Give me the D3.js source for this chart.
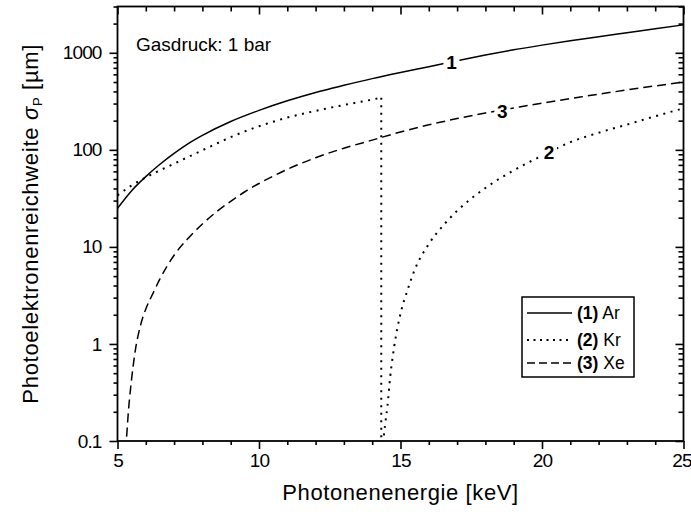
<!DOCTYPE html>
<html>
<head>
<meta charset="utf-8">
<script src="https://cdn.jsdelivr.net/npm/d3@7"></script>
<style>
  body { margin: 0; background: #fff; }
  svg { display: block; font-family: "Liberation Sans", Arial, sans-serif; }
  .axis path, .axis line { stroke: #000; }
  .axis text { font-size: 19px; fill: #000; letter-spacing: -0.9px; font-family: "Liberation Sans", Arial, sans-serif; }
</style>
</head>
<body>
<svg id="chart" width="691" height="514"></svg>
<script>
// tick labels
const xTicks = [5, 10, 15, 20, 25];
const yTicks = [0.1, 1, 10, 100, 1000];

// (1) Ar
const arEnergy = [5, 5.5, 6, 6.5, 7, 7.5, 8, 9, 10, 11, 12, 13, 14, 15, 16, 17, 18, 19, 20, 21, 22, 23, 24, 25];
const arRange  = [25, 38, 53, 71, 92, 116, 141, 196, 255, 320, 390, 462, 542, 627, 720, 830, 950, 1075, 1200, 1330, 1465, 1610, 1770, 1940];

// (2) Kr, below and above the K edge
const krLowEnergy = [5, 5.5, 6, 6.5, 7, 7.5, 8, 8.5, 9, 9.5, 10, 10.5, 11, 12, 13, 14, 14.32];
const krLowRange  = [34, 43, 52, 61.5, 72, 84.5, 99, 116, 135, 155, 175, 195, 215, 252, 290, 330, 345];
const krEdge = 14.32;
const krHighEnergy = [14.38, 14.40, 14.46, 14.54, 14.64, 14.78, 15, 15.25, 15.5, 16, 16.5, 17, 17.5, 18, 18.5, 19, 19.5, 20, 21, 22, 23, 24, 25];
const krHighRange  = [0.08, 0.1, 0.15, 0.23, 0.47, 0.95, 2.05, 3.6, 5.8, 10.7, 16.5, 23.5, 31.5, 40.5, 50.5, 61.5, 73.5, 87, 120, 150, 182, 222, 268];

// (3) Xe
const xeEnergy = [5.28, 5.31, 5.39, 5.5, 5.63, 5.8, 6, 6.25, 6.5, 7, 7.5, 8, 8.5, 9, 9.5, 10, 11, 12, 13, 14, 15, 16, 17, 18, 19, 20, 21, 22, 23, 24, 25];
const xeRange  = [0.08, 0.1, 0.21, 0.44, 0.86, 1.5, 2.29, 3.3, 4.68, 8.2, 12.3, 17.2, 23, 29.5, 37, 45, 63, 83, 104, 126, 153, 181, 210, 240, 270, 303, 337, 375, 414, 456, 500];

// inline curve labels
const curveLabels = ['1', '2', '3'];
const curveLabelEnergy = [16.8, 20.25, 18.6];
const curveLabelRange = [810, 94, 252];

// legend
const legendNums = ['(1)', '(2)', '(3)'];
const legendGases = ['Ar', 'Kr', 'Xe'];
const legendDash = [null, '2,4.5', '8,4'];

const width = 691, height = 514;
const margin = {l: 117.5, r: 7.5, t: 6.5, b: 73};
const svg = d3.select('#chart');

const x = d3.scaleLinear().domain([5, 25]).range([margin.l, width - margin.r]);
const y = d3.scaleLog().domain([0.1, 3000]).range([height - margin.b, margin.t]);

const xMinor = d3.range(5, 26, 1).filter(v => !xTicks.includes(v));
const yMinor = [];
yTicks.forEach(d => { for (let k = 2; k <= 9; k++) { if (d * k <= 3000) yMinor.push(d * k); } });

const fmtY = d => d < 1 ? d3.format('.1f')(d) : d3.format('d')(d);

// bottom axis
svg.append('g').attr('class', 'axis')
  .attr('transform', `translate(0,${y.range()[0]})`)
  .call(d3.axisBottom(x).tickValues(xTicks).tickSize(8).tickPadding(5).tickFormat(d3.format('d')))
  .call(g => g.select('.domain').remove())
  .call(g => g.selectAll('.tick text').filter(d => d === 25).attr('dx', -2));
svg.append('g').attr('class', 'axis')
  .attr('transform', `translate(0,${y.range()[0]})`)
  .call(d3.axisBottom(x).tickValues(xMinor).tickSize(4).tickFormat(''))
  .call(g => g.select('.domain').remove());
// top axis, ticks inward
svg.append('g').attr('class', 'axis')
  .attr('transform', `translate(0,${margin.t})`)
  .call(d3.axisBottom(x).tickValues(xTicks).tickSize(8).tickFormat(''))
  .call(g => g.select('.domain').remove());
svg.append('g').attr('class', 'axis')
  .attr('transform', `translate(0,${margin.t})`)
  .call(d3.axisBottom(x).tickValues(xMinor).tickSize(5).tickFormat(''))
  .call(g => g.select('.domain').remove());

// left axis
svg.append('g').attr('class', 'axis')
  .attr('transform', `translate(${margin.l},0)`)
  .call(d3.axisLeft(y).tickValues(yTicks).tickSize(8).tickPadding(8).tickFormat(fmtY))
  .call(g => g.select('.domain').remove());
svg.append('g').attr('class', 'axis')
  .attr('transform', `translate(${margin.l},0)`)
  .call(d3.axisLeft(y).tickValues(yMinor).tickSize(4).tickFormat(''))
  .call(g => g.select('.domain').remove());
// right axis, ticks inward
svg.append('g').attr('class', 'axis')
  .attr('transform', `translate(${width - margin.r},0)`)
  .call(d3.axisLeft(y).tickValues(yTicks).tickSize(8).tickFormat(''))
  .call(g => g.select('.domain').remove());
svg.append('g').attr('class', 'axis')
  .attr('transform', `translate(${width - margin.r},0)`)
  .call(d3.axisLeft(y).tickValues(yMinor).tickSize(5).tickFormat(''))
  .call(g => g.select('.domain').remove());

svg.selectAll('.axis line').attr('stroke-width', 1.6);

// frame
svg.append('rect')
  .attr('x', x.range()[0]).attr('y', y.range()[1])
  .attr('width', x.range()[1] - x.range()[0])
  .attr('height', y.range()[0] - y.range()[1])
  .attr('fill', 'none').attr('stroke', '#000').attr('stroke-width', 1.8);

// clip for curves
svg.append('clipPath').attr('id', 'plotClip').append('rect')
  .attr('x', x.range()[0]).attr('y', y.range()[1])
  .attr('width', x.range()[1] - x.range()[0])
  .attr('height', y.range()[0] - y.range()[1]);

const curves = svg.append('g').attr('clip-path', 'url(#plotClip)');
const line = d3.line().x(d => x(d[0])).y(d => y(d[1])).curve(d3.curveMonotoneX);
const zipped = (a, b) => a.map((v, i) => [v, b[i]]);

curves.append('path').datum(zipped(arEnergy, arRange))
  .attr('d', line).attr('fill', 'none').attr('stroke', '#000').attr('stroke-width', 1.5);

curves.append('path').datum(zipped(krLowEnergy, krLowRange))
  .attr('d', line).attr('fill', 'none').attr('stroke', '#000').attr('stroke-width', 2)
  .attr('stroke-dasharray', '2,5.5');
curves.append('path').datum([[krEdge, krLowRange[krLowRange.length - 1]], [krEdge, 0.05]])
  .attr('d', d3.line().x(d => x(d[0])).y(d => y(d[1])))
  .attr('fill', 'none').attr('stroke', '#000').attr('stroke-width', 2)
  .attr('stroke-dasharray', '2,5.5');
curves.append('path').datum(zipped(krHighEnergy, krHighRange))
  .attr('d', line).attr('fill', 'none').attr('stroke', '#000').attr('stroke-width', 2)
  .attr('stroke-dasharray', '2,5.5');

curves.append('path').datum(zipped(xeEnergy, xeRange))
  .attr('d', line).attr('fill', 'none').attr('stroke', '#000').attr('stroke-width', 1.5)
  .attr('stroke-dasharray', '9,5');

// inline labels with a gap in the curve
curveLabels.forEach((t, i) => {
  const cx = x(curveLabelEnergy[i]), cy = y(curveLabelRange[i]);
  svg.append('rect').attr('x', cx - 8).attr('y', cy - 10).attr('width', 16).attr('height', 20).attr('fill', '#fff');
  svg.append('text').attr('x', cx).attr('y', cy).attr('dy', '0.36em')
    .attr('text-anchor', 'middle').attr('font-weight', 'bold').attr('font-size', 19)
    .text(t);
});

// annotation
svg.append('text').attr('x', 136).attr('y', 51).attr('font-size', 19).text('Gasdruck: 1 bar');

// legend
const lg = svg.append('g');
lg.append('rect').attr('x', 522).attr('y', 297).attr('width', 112).attr('height', 80)
  .attr('fill', '#fff').attr('stroke', '#000').attr('stroke-width', 1.5);
const rowY = [313, 340, 363];
legendNums.forEach((n, i) => {
  const l = lg.append('line').attr('x1', 527).attr('x2', 572).attr('y1', rowY[i]).attr('y2', rowY[i])
    .attr('stroke', '#000').attr('stroke-width', i === 1 ? 2 : 1.5);
  if (legendDash[i]) l.attr('stroke-dasharray', legendDash[i]);
  const t = lg.append('text').attr('x', 577).attr('y', rowY[i]).attr('dy', '0.36em').attr('font-size', 17.5);
  t.append('tspan').attr('font-weight', 'bold').text(n);
  t.append('tspan').text(' ' + legendGases[i]);
});

// axis titles
svg.append('text').attr('x', (x.range()[0] + x.range()[1]) / 2).attr('y', 500)
  .attr('text-anchor', 'middle').attr('font-size', 22).attr('letter-spacing', 0.6)
  .text('Photonenenergie [keV]');

const yl = svg.append('text')
  .attr('transform', `translate(37.5,${(y.range()[0] + y.range()[1]) / 2}) rotate(-90)`)
  .attr('text-anchor', 'middle').attr('font-size', 22).attr('letter-spacing', 0.7);
yl.append('tspan').text('Photoelektronenreichweite ');
yl.append('tspan').attr('font-style', 'italic').text('σ');
yl.append('tspan').attr('font-size', 13).attr('dy', 4).text('P');
yl.append('tspan').attr('dy', -4).text(' [µm]');
</script>
</body>
</html>
